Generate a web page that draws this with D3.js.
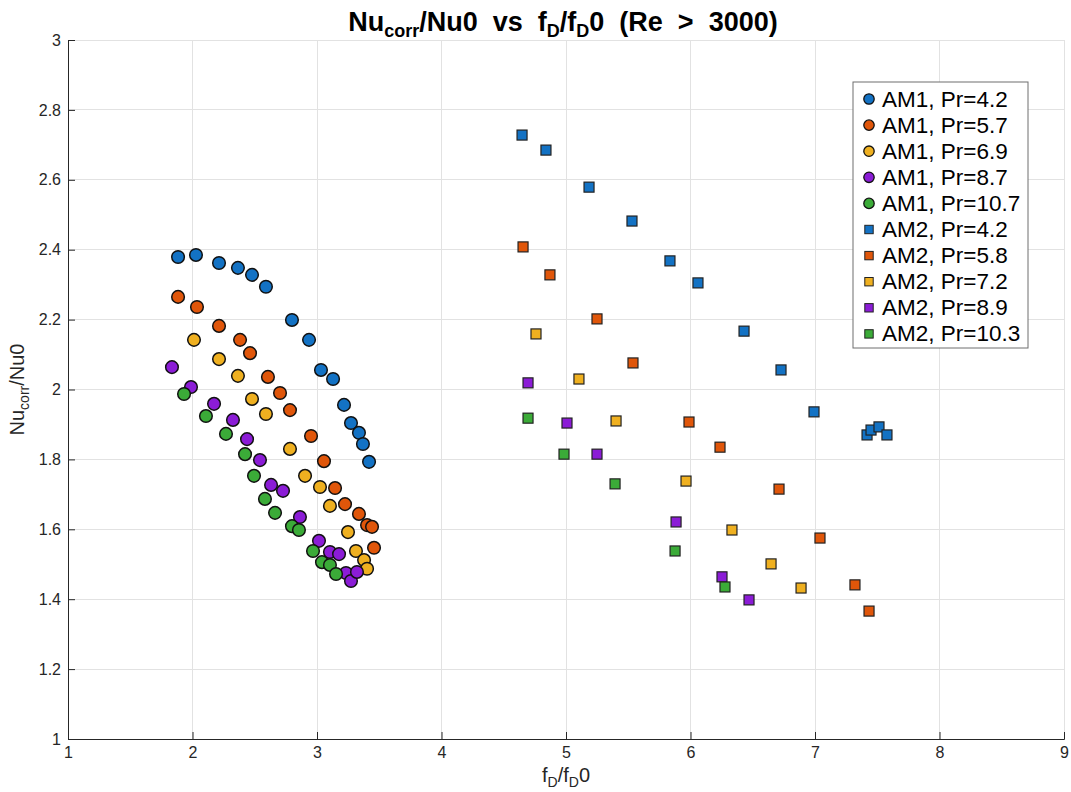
<!DOCTYPE html>
<html><head><meta charset="utf-8">
<script src="https://cdn.jsdelivr.net/npm/d3@7"></script>
<style>
html,body{margin:0;padding:0;background:#fff;}
svg text{font-family:"Liberation Sans",Arial,Helvetica,sans-serif;white-space:pre;}
</style></head>
<body><svg id="chart" width="1071" height="792"></svg>
<script>
// ---------- data ----------
const am1_42_x = [1.884,2.028,2.213,2.365,2.478,2.590,2.799,2.936,3.032,3.129,3.217,3.273,3.337,3.369,3.418];
const am1_42_y = [2.379,2.385,2.362,2.348,2.328,2.294,2.199,2.142,2.056,2.030,1.956,1.904,1.876,1.844,1.793];
const am1_57_x = [1.884,2.036,2.213,2.382,2.462,2.606,2.703,2.783,2.952,3.056,3.145,3.225,3.337,3.402,3.442,3.458];
const am1_57_y = [2.265,2.236,2.182,2.142,2.104,2.036,1.990,1.941,1.867,1.795,1.718,1.672,1.644,1.612,1.607,1.547];
const am1_69_x = [2.012,2.213,2.365,2.478,2.590,2.783,2.904,3.024,3.104,3.249,3.313,3.378,3.402];
const am1_69_y = [2.142,2.087,2.039,1.973,1.930,1.830,1.753,1.721,1.667,1.592,1.538,1.512,1.487];
const am1_87_x = [1.835,1.988,2.173,2.325,2.438,2.542,2.631,2.727,2.863,3.016,3.104,3.177,3.233,3.273,3.321];
const am1_87_y = [2.064,2.007,1.959,1.913,1.858,1.798,1.727,1.710,1.635,1.567,1.535,1.529,1.475,1.452,1.478];
const am1_107_x = [1.932,2.108,2.269,2.422,2.494,2.582,2.663,2.799,2.855,2.968,3.040,3.104,3.153];
const am1_107_y = [1.987,1.924,1.873,1.815,1.753,1.687,1.647,1.609,1.598,1.538,1.506,1.498,1.472];

const am2_42_x = [4.647,4.839,5.185,5.530,5.835,6.060,6.430,6.727,6.992,7.418,7.450,7.514,7.578];
const am2_42_y = [2.728,2.685,2.579,2.482,2.368,2.305,2.167,2.056,1.936,1.870,1.884,1.893,1.870];
const am2_58_x = [4.655,4.871,5.249,5.538,5.988,6.237,6.711,7.040,7.321,7.434];
const am2_58_y = [2.408,2.328,2.202,2.076,1.907,1.835,1.715,1.575,1.441,1.366];
const am2_72_x = [4.759,5.104,5.402,5.964,6.333,6.647,6.888];
const am2_72_y = [2.159,2.030,1.910,1.738,1.598,1.501,1.432];
const am2_89_x = [4.695,5.008,5.249,5.884,6.253,6.470];
const am2_89_y = [2.019,1.904,1.815,1.621,1.464,1.398];
const am2_103_x = [4.695,4.984,5.394,5.876,6.277];
const am2_103_y = [1.918,1.815,1.730,1.538,1.435];

const seriesNames = ["AM1, Pr=4.2","AM1, Pr=5.7","AM1, Pr=6.9","AM1, Pr=8.7","AM1, Pr=10.7",
                     "AM2, Pr=4.2","AM2, Pr=5.8","AM2, Pr=7.2","AM2, Pr=8.9","AM2, Pr=10.3"];
const xTicks = [1,2,3,4,5,6,7,8,9];
const yTicks = [1,1.2,1.4,1.6,1.8,2,2.2,2.4,2.6,2.8,3];

// ---------- build ----------
const colors = ["#1372c4","#e0560a","#efb020","#8b1cd6","#3bab38"];
const seriesData = [
  [am1_42_x,am1_42_y],[am1_57_x,am1_57_y],[am1_69_x,am1_69_y],[am1_87_x,am1_87_y],[am1_107_x,am1_107_y],
  [am2_42_x,am2_42_y],[am2_58_x,am2_58_y],[am2_72_x,am2_72_y],[am2_89_x,am2_89_y],[am2_103_x,am2_103_y]
].map((d,i)=>({name:seriesNames[i], shape: i<5?"circle":"square", color: colors[i%5],
   pts: d[0].map((x,j)=>({x:x,y:d[1][j]}))}));

const W=1071,H=792, m={l:68,r:7,t:40,b:53};
const svg=d3.select("#chart");
const x=d3.scaleLinear().domain([1,9]).range([m.l,W-m.r]);
const y=d3.scaleLinear().domain([1,3]).range([H-m.b,m.t]);

// grid
const g=svg.append("g");
g.selectAll(".gx").data(xTicks).enter().append("line")
  .attr("x1",d=>x(d)).attr("x2",d=>x(d)).attr("y1",y(1)).attr("y2",y(3))
  .attr("stroke","#e2e2e2").attr("stroke-width",1).attr("shape-rendering","crispEdges");
g.selectAll(".gy").data(yTicks).enter().append("line")
  .attr("y1",d=>y(d)).attr("y2",d=>y(d)).attr("x1",x(1)).attr("x2",x(9))
  .attr("stroke","#e2e2e2").attr("stroke-width",1).attr("shape-rendering","crispEdges");

// axes
const xAxis=d3.axisBottom(x).tickValues(xTicks).tickSize(-7).tickPadding(8).tickFormat(d3.format("d"));
const yAxis=d3.axisLeft(y).tickValues(yTicks).tickSize(-7).tickPadding(7).tickFormat(d=>d3.format("")(+d.toFixed(1)));
const gx=svg.append("g").attr("transform",`translate(0,${y(1)})`).call(xAxis);
const gy=svg.append("g").attr("transform",`translate(${x(1)},0)`).call(yAxis);
[gx,gy].forEach(a=>{
  a.select(".domain").attr("stroke","#262626").attr("stroke-width",1);
  a.selectAll(".tick line").attr("stroke","#262626");
  a.selectAll(".tick text").attr("fill","#262626").style("font-size","16px");
});

// points
const sq=10, r=6.3;
seriesData.forEach(s=>{
  const gg=svg.append("g");
  if(s.shape==="circle"){
    gg.selectAll("circle").data(s.pts).enter().append("circle")
      .attr("cx",d=>x(d.x)).attr("cy",d=>y(d.y)).attr("r",r)
      .attr("fill",s.color).attr("stroke","#111").attr("stroke-width",1.5);
  } else {
    gg.selectAll("rect").data(s.pts).enter().append("rect")
      .attr("x",d=>x(d.x)-sq/2).attr("y",d=>y(d.y)-sq/2).attr("width",sq).attr("height",sq)
      .attr("fill",s.color).attr("stroke","#222").attr("stroke-width",1.2);
  }
});

// title
const title=svg.append("text").attr("x",(x(1)+x(9))/2-3).attr("y",31).attr("text-anchor","middle")
  .style("font-size","27px").style("font-weight","bold").attr("fill","#000");
title.append("tspan").text("Nu");
title.append("tspan").attr("dy",6).style("font-size","18px").text("corr");
title.append("tspan").attr("dy",-6).text("/Nu0  vs  f");
title.append("tspan").attr("dy",6).style("font-size","18px").text("D");
title.append("tspan").attr("dy",-6).text("/f");
title.append("tspan").attr("dy",6).style("font-size","18px").text("D");
title.append("tspan").attr("dy",-6).text("0  (Re  >  3000)");

// x label
const xl=svg.append("text").attr("x",(x(1)+x(9))/2).attr("y",782).attr("text-anchor","middle")
  .style("font-size","20px").attr("fill","#262626");
xl.append("tspan").text("f");
xl.append("tspan").attr("dy",5).style("font-size","14px").text("D");
xl.append("tspan").attr("dy",-5).text("/f");
xl.append("tspan").attr("dy",5).style("font-size","14px").text("D");
xl.append("tspan").attr("dy",-5).text("0");

// y label
const yl=svg.append("text").attr("transform",`translate(24,${(y(1)+y(3))/2}) rotate(-90)`).attr("text-anchor","middle")
  .style("font-size","20px").attr("fill","#262626");
yl.append("tspan").text("Nu");
yl.append("tspan").attr("dy",5).style("font-size","14px").text("corr");
yl.append("tspan").attr("dy",-5).text("/Nu0");

// legend
const lg=svg.append("g").attr("transform","translate(853,82)");
lg.append("rect").attr("x",0).attr("y",0).attr("width",175).attr("height",266)
  .attr("fill","#fff").attr("stroke","#6e6e6e").attr("stroke-width",1);
seriesData.forEach((s,i)=>{
  const yy=17+i*26.1;
  if(s.shape==="circle"){
    lg.append("circle").attr("cx",16).attr("cy",yy).attr("r",5.2).attr("fill",s.color).attr("stroke","#111").attr("stroke-width",1.3);
  } else {
    lg.append("rect").attr("x",16-4.2).attr("y",yy-4.2).attr("width",8.4).attr("height",8.4).attr("fill",s.color).attr("stroke","#222").attr("stroke-width",1);
  }
  lg.append("text").attr("x",29).attr("y",yy+7.5).style("font-size","22.5px").attr("fill","#000").text(s.name);
});
</script></body></html>
